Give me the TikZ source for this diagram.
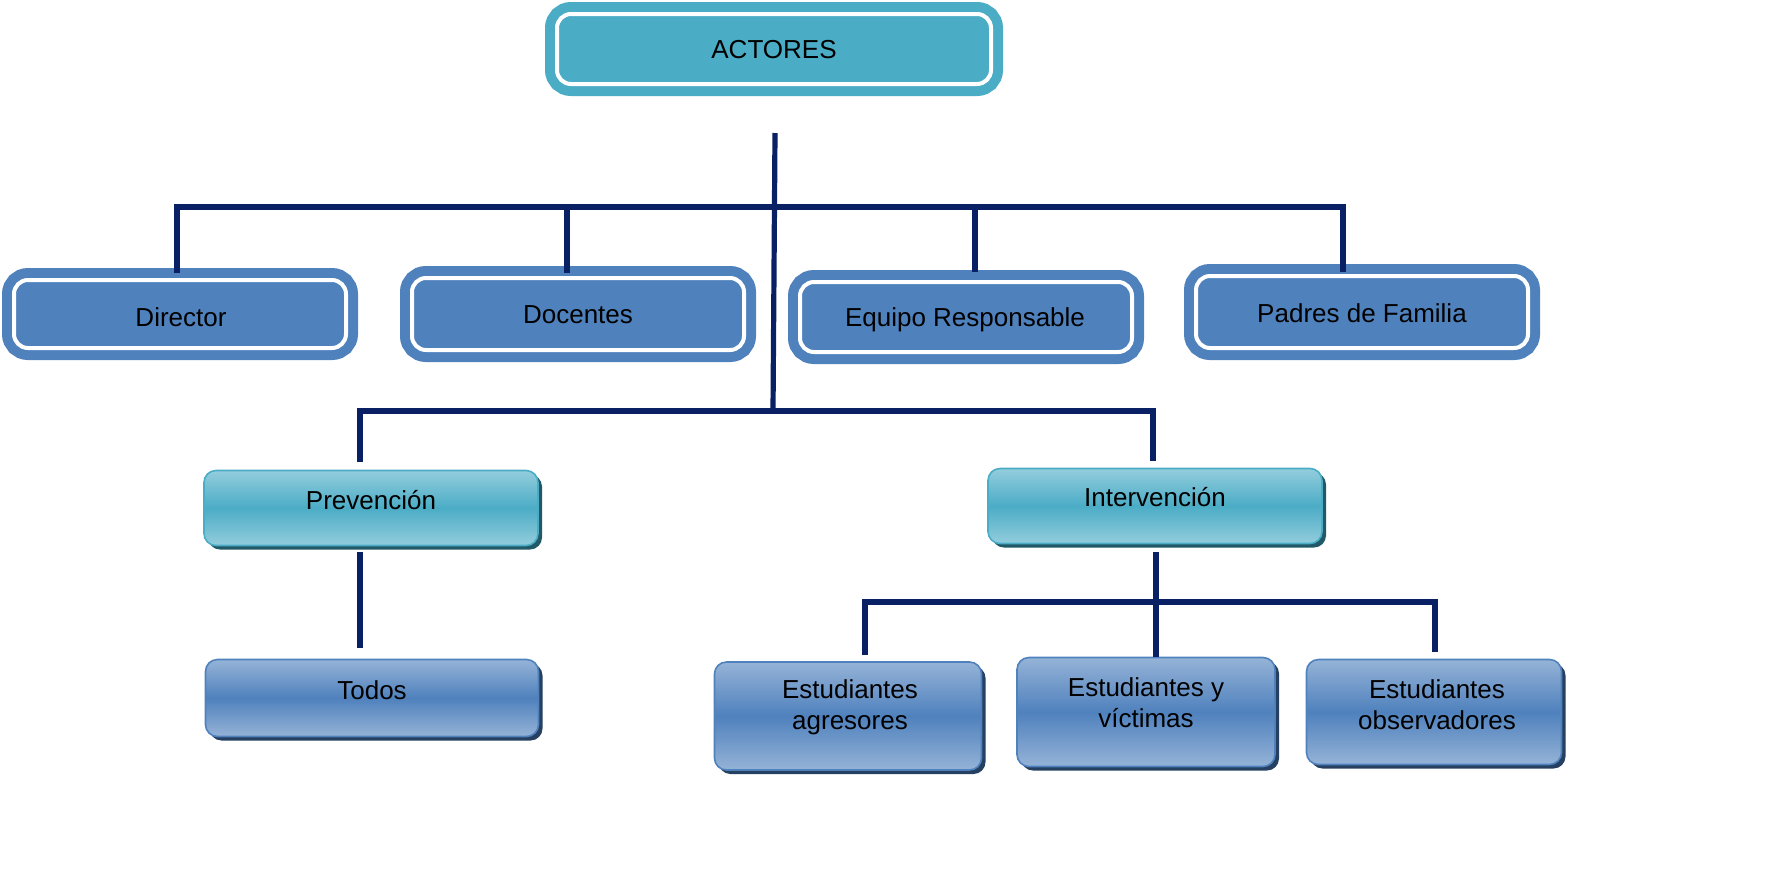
\documentclass[tikz,border=0pt]{standalone}
\usepackage{fontspec}
\setmainfont{Liberation Sans}
\usetikzlibrary{shadows}
\definecolor{teal1}{HTML}{4BACC6}
\definecolor{teallight}{HTML}{93CDDD}
\definecolor{tealdark}{HTML}{215968}
\definecolor{blue1}{HTML}{4F81BD}
\definecolor{bluelight}{HTML}{95B3D7}
\definecolor{bluedark}{HTML}{254061}
\definecolor{navy}{HTML}{0A2064}
\tikzset{
  ringbox/.style={rectangle, rounded corners=7pt, fill=#1, draw=white, line width=2pt,
    preaction={draw=#1, line width=12pt}, minimum width=166pt, minimum height=34pt, inner sep=0pt},
  gradbox/.style={rectangle, rounded corners=6pt, draw=#1, line width=0.8pt, inner sep=0pt},
  tealgrad/.style={gradbox=teal1, top color=teallight, bottom color=teallight, middle color=teal1,
    drop shadow={shadow xshift=2pt, shadow yshift=-2pt, fill=tealdark, opacity=1}},
  bluegrad/.style={gradbox=blue1, top color=bluelight, bottom color=bluelight, middle color=blue1,
    drop shadow={shadow xshift=2pt, shadow yshift=-2pt, fill=bluedark, opacity=1}},
  txt/.style={font=\fontsize{13}{15.5}\selectfont, text=black, align=center, inner sep=0pt},
  conn/.style={draw=navy, line width=2.6pt}
}
\begin{document}
\begin{tikzpicture}[x=0.5pt, y=-0.5pt]
\useasboundingbox (0,0) rectangle (1789,885);
% top box
\node[ringbox=teal1, minimum width=217pt, minimum height=35pt] (actores) at (774,49) {};
\node[txt] (tactores) at (774,50) {ACTORES};
% row 1
\node[ringbox=blue1] (director) at (180,314) {};
\node[txt] at (181,317) {Director};
\node[ringbox=blue1, minimum height=36pt] (docentes) at (578,314) {};
\node[txt] at (578,315) {Docentes};
\node[ringbox=blue1, minimum height=35pt] (equipo) at (966,317) {};
\node[txt] at (965,320) {Equipo Responsable};
\node[ringbox=blue1, minimum height=36pt] (padres) at (1362,312) {};
\node[txt] at (1362,313) {Padres de Familia};
% row 2
\node[tealgrad, minimum width=167pt, minimum height=37.5pt] (prev) at (371,508) {};
\node[txt] at (371,500) {Prevención};
\node[tealgrad, minimum width=167pt, minimum height=37.5pt] (inter) at (1155,506) {};
\node[txt] at (1155,497) {Intervención};
% row 3
\node[bluegrad, minimum width=166.5pt, minimum height=38.5pt] (todos) at (372,698) {};
\node[txt] at (372,690) {Todos};
\node[bluegrad, minimum width=133.5pt, minimum height=54pt] (agres) at (848,716) {};
\node[txt] at (850,707) {Estudiantes\\agresores};
\node[bluegrad, minimum width=129pt, minimum height=54.5pt] (vict) at (1146,712) {};
\node[txt] at (1146,703) {Estudiantes y\\víctimas};
\node[bluegrad, minimum width=127.5pt, minimum height=52.5pt] (obs) at (1434,712) {};
\node[txt] at (1437,705) {Estudiantes\\observadores};
% connectors
\coordinate (trunkTop) at (775,133);
\coordinate (trunkBot) at (773,411);
\draw[conn] (trunkTop) -- (trunkBot);
\draw[conn] (177,273) -- (177,207) -- (1343,207) -- (1343,272);
\draw[conn] (567,207) -- (567,273);
\draw[conn] (975,205) -- (975,272);
\draw[conn] (360,462) -- (360,411) -- (1153,411) -- (1153,461);
\draw[conn] (360,552) -- (360,648);
\draw[conn] (1156,552) -- (1156,657);
\draw[conn] (865,655) -- (865,602) -- (1435,602) -- (1435,652);
\end{tikzpicture}
\end{document}
